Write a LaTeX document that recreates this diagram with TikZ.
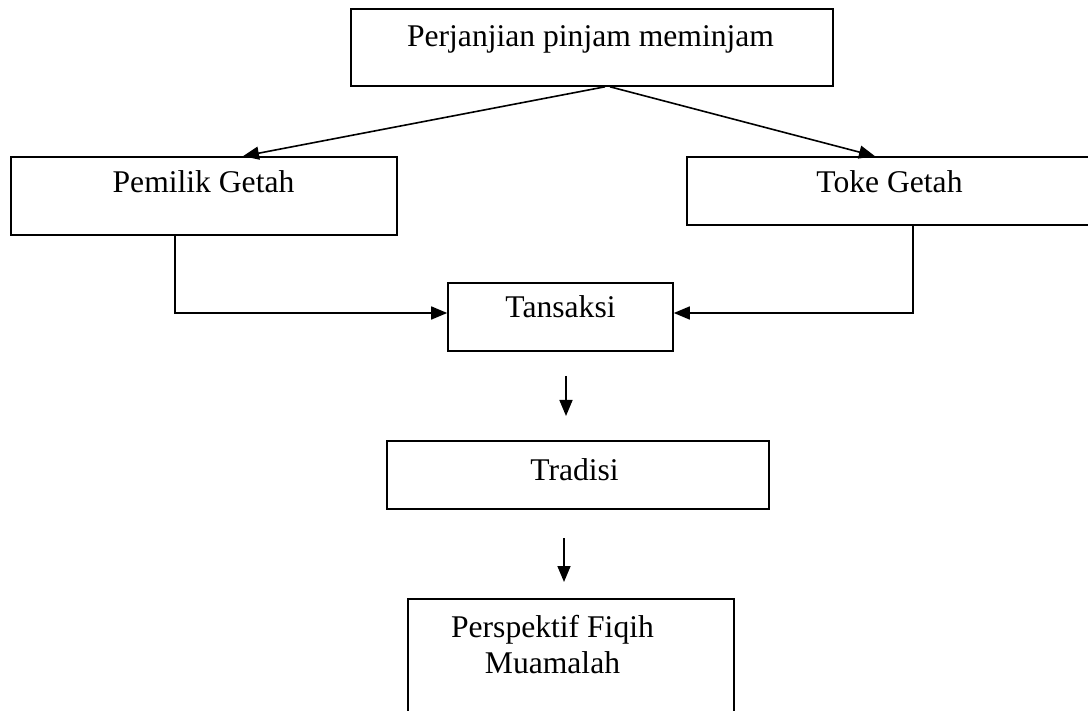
\documentclass[tikz,border=0pt]{standalone}
\usepackage{fontspec}
\setmainfont{Liberation Serif}
\usetikzlibrary{arrows.meta}
\begin{document}
\begin{tikzpicture}[x=1pt,y=-1pt,
  boxnode/.style={draw,line width=1.6pt,inner sep=0pt,minimum width=#1},
  lbl/.style={anchor=base,inner sep=0pt,font=\fontsize{31.6}{36}\selectfont},
  conn/.style={line width=1.6pt},
  arr/.style={conn,-{Triangle[length=16pt,width=13pt]}}]
\useasboundingbox (0,0) rectangle (1088,711);
\clip (0,0) rectangle (1088,711);
% boxes
\node[boxnode=482pt,minimum height=77pt] (top) at (592,47.5) {};
\node[boxnode=386pt,minimum height=78pt] (pem) at (204,196) {};
\node[boxnode=408pt,minimum height=68pt] (toke) at (891,191) {};
\node[boxnode=225pt,minimum height=68pt] (tans) at (560.5,317) {};
\node[boxnode=382pt,minimum height=68pt] (trad) at (578,475) {};
\node[boxnode=326pt,minimum height=121pt] (persp) at (571,659.5) {};
% texts
\node[lbl] (ttop) at (590.5,47) {Perjanjian pinjam meminjam};
\node[lbl] (tpem) at (203.5,193) {Pemilik Getah};
\node[lbl] (ttoke) at (889.5,193) {Toke Getah};
\node[lbl] (ttans) at (560.5,318) {Tansaksi};
\node[lbl] (ttrad) at (574.5,480) {Tradisi};
\node[lbl] (tpersp1) at (552.5,637) {Perspektif Fiqih};
\node[lbl] (tpersp2) at (552.5,673) {Muamalah};
% free arrow ends
\coordinate (a1s) at (566,376);
\coordinate (a1e) at (566,416);
\coordinate (a2s) at (564,538);
\coordinate (a2e) at (564,582);
% connectors
\draw[arr] ([xshift=13pt]top.south) -- ([xshift=39pt]pem.north);
\draw[arr] ([xshift=18pt]top.south) -- ([xshift=-16pt]toke.north);
\draw[arr] ([xshift=-29pt]pem.south) |- ([yshift=4pt]tans.west);
\draw[arr] ([xshift=22pt]toke.south) |- ([yshift=4pt]tans.east);
\draw[arr] (a1s) -- (a1e);
\draw[arr] (a2s) -- (a2e);
\end{tikzpicture}
\end{document}
